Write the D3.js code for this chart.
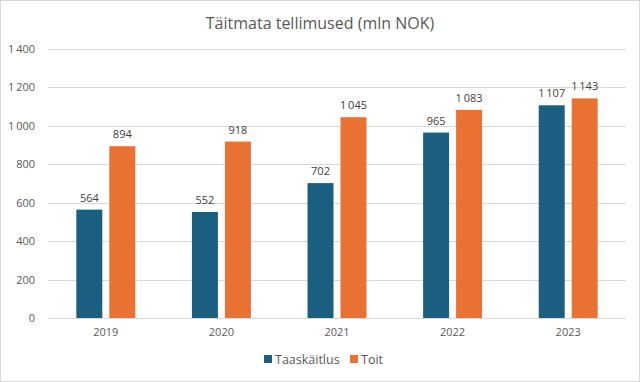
<!DOCTYPE html>
<html><head><meta charset="utf-8">
<script src="https://cdn.jsdelivr.net/npm/d3@7"></script>
<style>body{margin:0;background:#fff}svg{display:block;font-family:"Open Sans",Lato,sans-serif}</style>
</head><body><svg id="c" width="640" height="382"></svg>
<script>
const categories = ["2019","2020","2021","2022","2023"];
const seriesNames = ["Taaskäitlus","Toit"];
const taaskaitlus = [564,552,702,965,1107];
const toit = [894,918,1045,1083,1143];
const yTicks = [0,200,400,600,800,1000,1200,1400];
const colors = ["#1a5e80","#e97132"];
const title = "Täitmata tellimused (mln NOK)";

const svg = d3.select("#c");
svg.append("rect").attr("x",0.5).attr("y",0.5).attr("width",639).attr("height",381).attr("fill","#fff").attr("stroke","#d9d9d9");
const m = {l:48,r:14,t:49,b:64};
const W = 640-m.l-m.r, H = 382-m.t-m.b;
const fmt = v => d3.format(",")(v).replace(/,/g,"\u2009");
const x = d3.scaleBand().domain(categories).range([m.l,m.l+W]).paddingInner(0.49).paddingOuter(0.245);
const xs = d3.scaleBand().domain(seriesNames).range([0,x.bandwidth()]).paddingInner(0.212);
const y = d3.scaleLinear().domain([0,1400]).range([m.t+H,m.t]);

svg.append("g").selectAll("line").data(yTicks).join("line")
 .attr("x1",m.l).attr("x2",m.l+W).attr("y1",d=>Math.round(y(d))+0.5).attr("y2",d=>Math.round(y(d))+0.5)
 .attr("stroke","#d9d9d9").attr("stroke-width",1);
svg.append("g").selectAll("text").data(yTicks).join("text")
 .attr("x",35).attr("y",d=>y(d)+4).attr("text-anchor","end").attr("font-size",11).attr("fill","#595959").text(fmt);

const data = [taaskaitlus,toit];
seriesNames.forEach((s,i)=>{
  const g = svg.append("g");
  g.selectAll("rect").data(categories).join("rect")
   .attr("x",c=>x(c)+xs(s)).attr("width",xs.bandwidth())
   .attr("y",(c,j)=>y(data[i][j])).attr("height",(c,j)=>y(0)-y(data[i][j]))
   .attr("fill",colors[i]);
  g.selectAll("text").data(categories).join("text")
   .attr("x",c=>x(c)+xs(s)+xs.bandwidth()/2).attr("y",(c,j)=>y(data[i][j])-8)
   .attr("text-anchor","middle").attr("font-size",11).attr("fill","#404040").text((c,j)=>fmt(data[i][j]));
});
svg.append("g").selectAll("text").data(categories).join("text")
 .attr("x",c=>x(c)+x.bandwidth()/2).attr("y",y(0)+18).attr("text-anchor","middle")
 .attr("font-size",11).attr("fill","#595959").text(d=>d);

svg.append("text").attr("x",320).attr("y",29).attr("text-anchor","middle").attr("font-size",16).attr("fill","#595959").text(title);

const leg = svg.append("g");
const lx = [264,350];
seriesNames.forEach((s,i)=>{
  leg.append("rect").attr("x",lx[i]).attr("y",355).attr("width",8).attr("height",8).attr("fill",colors[i]);
  leg.append("text").attr("x",lx[i]+11).attr("y",364).attr("font-size",12.5).attr("fill","#595959").text(s);
});
</script></body></html>
